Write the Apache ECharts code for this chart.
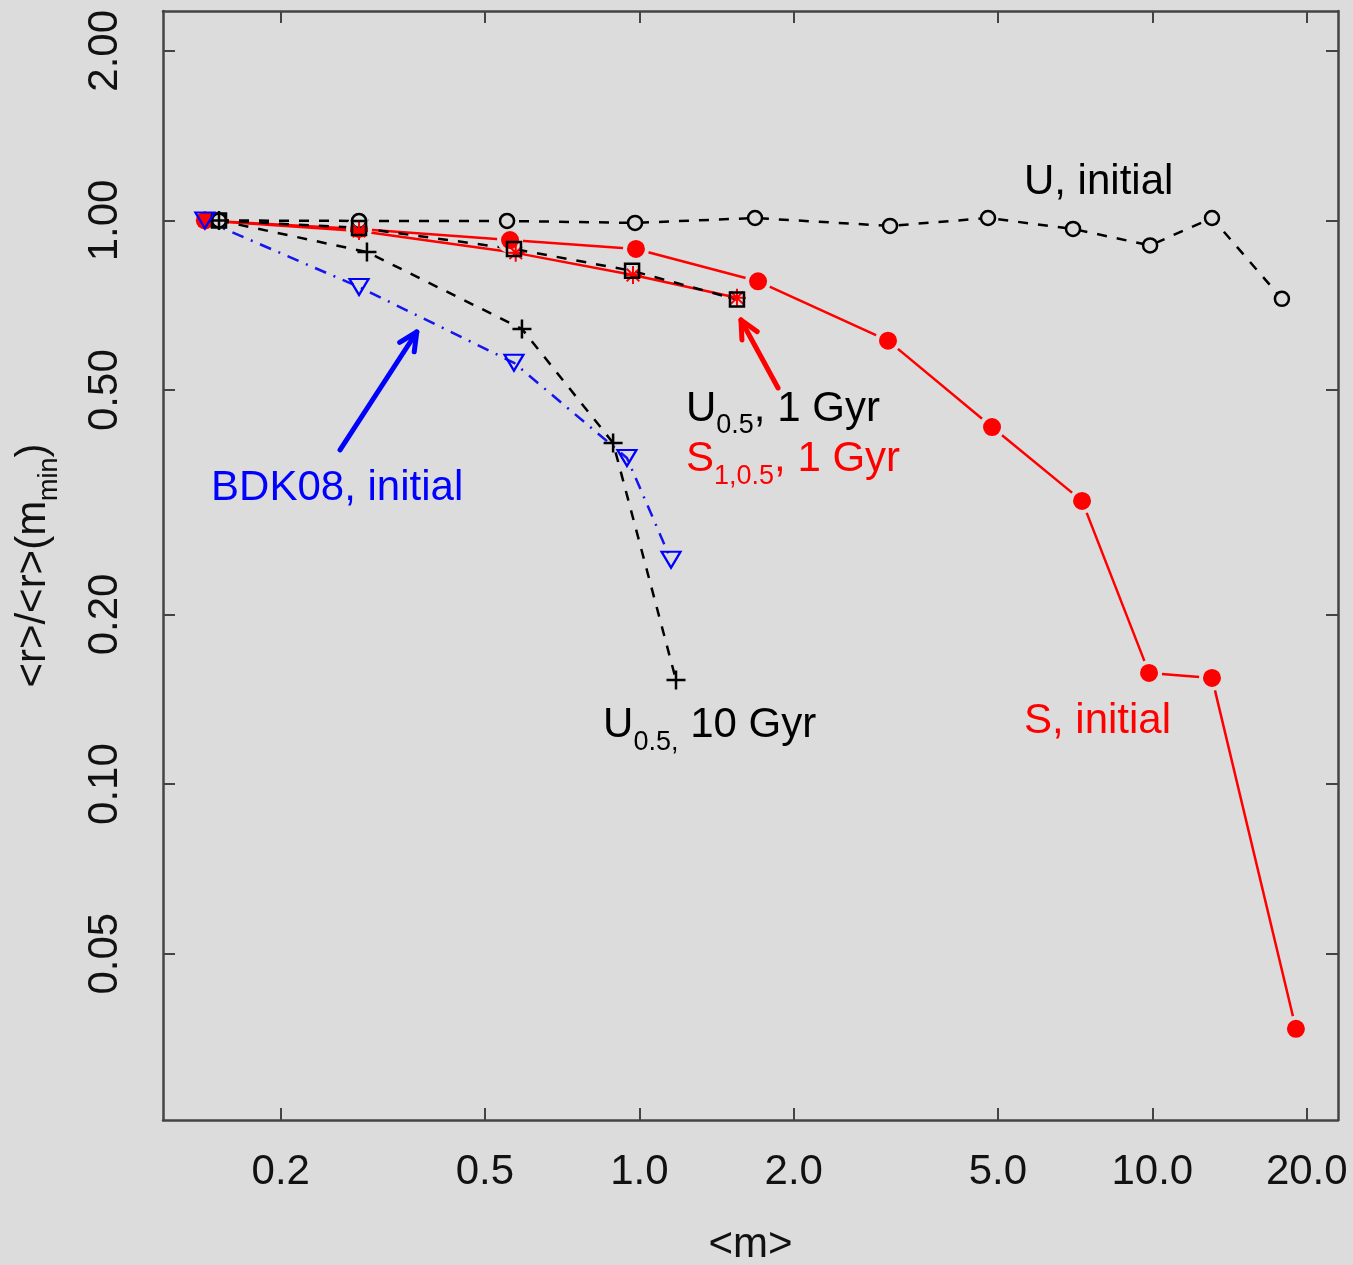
<!DOCTYPE html>
<html><head><meta charset="utf-8">
<script src="https://cdn.jsdelivr.net/npm/echarts@6/dist/echarts.min.js"></script>
<style>html,body{margin:0;padding:0;background:#dcdcdc}#c{width:1353px;height:1265px}</style>
</head><body><div id="c"></div>
<script>
// ---- tick labels / axis ranges ----
const xTicks = [0.2, 0.5, 1, 2, 5, 10, 20];
const yTicks = [0.05, 0.1, 0.2, 0.5, 1, 2];
const xRange = [0.1179, 23.01];
const yRange = [0.02535, 2.353];

// ---- series values ----
const uInitX = [0.1516, 0.2842, 0.5523, 0.981, 1.681, 3.081, 4.783, 7.005, 9.90, 13.07, 17.89];
const uInitY = [1.000, 0.998, 0.998, 0.990, 1.010, 0.978, 1.010, 0.966, 0.903, 1.010, 0.726];
const sInitX = [0.1423, 0.2842, 0.5597, 0.985, 1.704, 3.053, 4.870, 7.294, 9.853, 13.07, 19.05];
const sInitY = [1.000, 0.966, 0.923, 0.890, 0.780, 0.612, 0.430, 0.318, 0.1575, 0.1543, 0.0368];
const u05g1X = [0.1516, 0.2842, 0.5697, 0.968, 1.550];
const u05g1Y = [1.000, 0.970, 0.890, 0.814, 0.724];
const s105g1X = [0.1423, 0.2842, 0.5742, 0.972, 1.550];
const s105g1Y = [1.000, 0.958, 0.876, 0.800, 0.729];
const u05g10X = [0.1516, 0.2945, 0.5905, 0.889, 1.179];
const u05g10Y = [1.000, 0.879, 0.642, 0.403, 0.153];
const bdkX = [0.1423, 0.2842, 0.5697, 0.946, 1.153];
const bdkY = [1.000, 0.762, 0.559, 0.379, 0.250];

// ---- annotations (data coordinates) ----
const annTexts = ['{m|U, initial}', '{m|U}{s|0.5}{m|, 1 Gyr}', '{m|S}{s|1,0.5}{m|, 1 Gyr}',
                  '{m|BDK08, initial}', '{m|U}{s|0.5,}{m| 10 Gyr}', '{m|S, initial}'];
const annX = [5.62, 1.233, 1.233, 0.1463, 0.850, 5.62];
const annY = [1.170, 0.463, 0.376, 0.335, 0.127, 0.129];
const annColors = ['#000000', '#000000', '#ff0000', '#0000ff', '#000000', '#ff0000'];
const arrowFromX = [0.261, 1.864];
const arrowFromY = [0.3916, 0.5044];
const arrowToX = [0.3683, 1.578];
const arrowToY = [0.634, 0.666];
const arrowColors = ['#0000ff', '#ff0000'];

const BG = '#dcdcdc';
const FONT = '"Liberation Sans", Arial, Helvetica, sans-serif';
const zip = (xs, ys) => xs.map((x, i) => [x, ys[i]]);

const chart = echarts.init(document.getElementById('c'), null, {renderer: 'canvas'});

const frameLine = {show: true, onZero: false, lineStyle: {color: '#444', width: 2.5}};
const tickIn = (vals) => ({show: true, inside: true, length: 12, customValues: vals, lineStyle: {color: '#444', width: 2}});

const option = {
  backgroundColor: BG,
  animation: false,
  grid: {left: 163, top: 11, right: 15, bottom: 145, containLabel: false, outerBoundsMode: 'none'},
  xAxis: [{
    type: 'log', logBase: 10, min: xRange[0], max: xRange[1], position: 'bottom',
    axisLine: frameLine, axisTick: tickIn(xTicks), splitLine: {show: false}, minorTick: {show: false},
    axisLabel: {customValues: xTicks, margin: 31, fontSize: 42, fontFamily: FONT, color: '#111',
      formatter: v => Number(v).toFixed(1)},
    name: '<m>', nameLocation: 'middle', nameGap: 104,
    nameTextStyle: {fontSize: 42, fontFamily: FONT, color: '#111'}
  }, {
    type: 'log', logBase: 10, min: xRange[0], max: xRange[1], position: 'top',
    axisLine: frameLine, axisTick: tickIn(xTicks), axisLabel: {show: false}, splitLine: {show: false}
  }],
  yAxis: [{
    type: 'log', logBase: 10, min: yRange[0], max: yRange[1], position: 'left',
    axisLine: frameLine, axisTick: tickIn(yTicks), splitLine: {show: false}, minorTick: {show: false},
    axisLabel: {customValues: yTicks, margin: 37, rotate: 90, fontSize: 42, fontFamily: FONT, color: '#111',
      formatter: v => Number(v).toFixed(2)},
    name: '{a|<r>/<r>(m}{s|min}{a|)}', nameLocation: 'middle', nameGap: 100, nameRotate: 90,
    nameTextStyle: {fontFamily: FONT, color: '#111',
      rich: {a: {fontSize: 42, lineHeight: 60, fontFamily: FONT, color: '#111'},
             s: {fontSize: 27, lineHeight: 27, verticalAlign: 'bottom', fontFamily: FONT, color: '#111'}}}
  }, {
    type: 'log', logBase: 10, min: yRange[0], max: yRange[1], position: 'right',
    axisLine: frameLine, axisTick: tickIn(yTicks), axisLabel: {show: false}, splitLine: {show: false}
  }],
  series: [
    {name: 'S, initial', type: 'line', data: zip(sInitX, sInitY),
     lineStyle: {color: '#ff0000', width: 2.5, type: 'solid'},
     symbol: 'circle', symbolSize: 22,
     itemStyle: {color: '#ff0000', borderColor: BG, borderWidth: 4}},
    {name: 'U, initial', type: 'line', data: zip(uInitX, uInitY),
     lineStyle: {color: '#000', width: 2.5, type: [10, 10]},
     symbol: 'circle', symbolSize: 14,
     itemStyle: {color: BG, borderColor: '#000', borderWidth: 2.5}},
    {name: 'S1,0.5, 1 Gyr', type: 'line', data: zip(s105g1X, s105g1Y),
     lineStyle: {color: '#ff0000', width: 2.5, type: 'solid'},
     symbol: 'path://M-10,0L10,0M0,-10L0,10M-7,-7L7,7M-7,7L7,-7', symbolSize: 18,
     itemStyle: {color: 'none', borderColor: '#ff0000', borderWidth: 2}},
    {name: 'U0.5, 1 Gyr', type: 'line', data: zip(u05g1X, u05g1Y),
     lineStyle: {color: '#000', width: 2.5, type: [10, 10]},
     symbol: 'rect', symbolSize: 14,
     itemStyle: {color: 'none', borderColor: '#000', borderWidth: 2.5}},
    {name: 'U0.5, 10 Gyr', type: 'line', data: zip(u05g10X, u05g10Y),
     lineStyle: {color: '#000', width: 2.5, type: [10, 10]},
     symbol: 'path://M-10,0L10,0M0,-10L0,10', symbolSize: 19,
     itemStyle: {color: 'none', borderColor: '#000', borderWidth: 2.5}},
    {name: 'BDK08, initial', type: 'line', data: zip(bdkX, bdkY),
     lineStyle: {color: '#1515f0', width: 2.5, type: [12, 8, 2, 8]},
     symbol: 'path://M-10,-8L10,-8L0,9Z', symbolSize: [19, 16],
     itemStyle: {color: 'none', borderColor: '#0000ff', borderWidth: 2.2}}
  ]
};
chart.setOption(option);

function buildAnnotations() {
  const g = [];
  annTexts.forEach((t, i) => {
    const p = chart.convertToPixel({xAxisIndex: 0, yAxisIndex: 0}, [annX[i], annY[i]]);
    const c = annColors[i];
    g.push({type: 'text', x: p[0], y: p[1], z: 100, silent: true,
      style: {text: t, align: 'left', verticalAlign: 'middle', fill: c,
        rich: {m: {fontSize: 42, lineHeight: 60, fontFamily: FONT, fill: c},
               s: {fontSize: 27, lineHeight: 27, verticalAlign: 'bottom', fontFamily: FONT, fill: c}}}});
  });
  arrowFromX.forEach((_, i) => {
    const a = chart.convertToPixel({xAxisIndex: 0, yAxisIndex: 0}, [arrowFromX[i], arrowFromY[i]]);
    const b = chart.convertToPixel({xAxisIndex: 0, yAxisIndex: 0}, [arrowToX[i], arrowToY[i]]);
    const ang = Math.atan2(b[1] - a[1], b[0] - a[0]);
    const L = 20, w = Math.PI / 7;
    const h1 = [b[0] - L * Math.cos(ang - w), b[1] - L * Math.sin(ang - w)];
    const h2 = [b[0] - L * Math.cos(ang + w), b[1] - L * Math.sin(ang + w)];
    g.push({type: 'line', z: 100, silent: true, shape: {x1: a[0], y1: a[1], x2: b[0], y2: b[1]},
      style: {stroke: arrowColors[i], lineWidth: 5, lineCap: 'round'}});
    g.push({type: 'polyline', z: 100, silent: true, shape: {points: [h1, b, h2]},
      style: {stroke: arrowColors[i], lineWidth: 5, fill: 'none', lineCap: 'round', lineJoin: 'round'}});
  });
  chart.setOption({graphic: g});
}
buildAnnotations();
</script>
</body></html>
